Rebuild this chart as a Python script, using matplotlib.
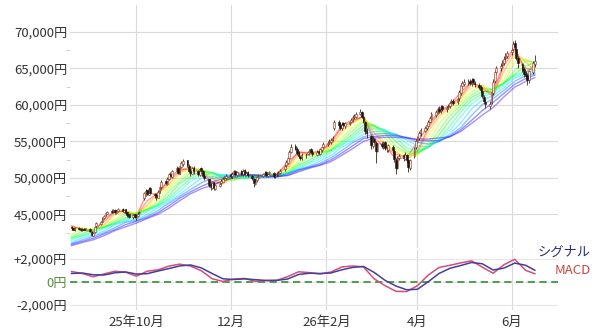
import numpy as np
import pandas as pd
import matplotlib
matplotlib.use("Agg")
import matplotlib.pyplot as plt
import matplotlib.dates as mdates

plt.rcParams['font.family'] = ['Noto Sans CJK JP', 'DejaVu Sans']

# daily candles, prices in units of 100 yen (one row per week, from 2025-08-20)
opens = [
    433, 431, 428,
    432, 430, 428, 430, 429,
    430, 426, 421, 426, 434,
    437, 440, 445, 449, 451,
    455, 453, 456, 452, 455,
    458, 454, 457, 453, 450,
    446, 450, 445, 448, 452,
    472, 477, 483, 477, 486,
    478, 477, 473, 480, 487,
    496, 492, 498, 506, 501,
    510, 514, 506, 515, 519,
    524, 517, 510, 506, 514,
    510, 504, 513, 510, 503,
    498, 492, 486, 494, 485,
    489, 493, 495, 500, 500,
    505, 502, 507, 510, 504,
    509, 505, 511, 504, 508,
    503, 499, 492, 497, 500,
    503, 506, 508, 503, 507,
    507, 502, 505, 505, 507,
    512, 518, 521, 528, 536,
    544, 539, 535, 529, 527,
    531, 533, 534, 539, 536,
    532, 537, 533, 538, 542,
    546, 549, 549, 553, 568,
    577, 572, 568, 575, 571,
    574, 577, 578, 584, 584,
    588, 591, 583, 577, 565,
    557, 544, 553, 548, 537,
    547, 543, 549, 540, 538,
    543, 537, 524, 514, 528,
    531, 526, 531, 524, 514,
    530, 542, 549, 555, 561,
    565, 569, 571, 577, 581,
    586, 589, 595, 591, 598,
    594, 597, 598, 604, 606,
    604, 609, 617, 626, 629,
    630, 633, 629, 635, 630,
    628, 624, 619, 611, 604,
    598, 604, 617, 633, 645,
    650, 655, 658, 664, 667,
    672, 677, 685, 677, 664,
    656, 649, 644, 641, 634,
    645, 656,
]
highs = [
    434, 432, 433,
    433, 431, 431, 431, 432,
    431, 427, 426, 434, 439,
    441, 446, 449, 454, 455,
    457, 458, 457, 456, 459,
    459, 458, 458, 454, 451,
    451, 451, 449, 453, 455,
    481, 485, 484, 487, 488,
    480, 479, 483, 490, 497,
    497, 501, 507, 508, 511,
    516, 515, 518, 523, 526,
    525, 519, 512, 515, 516,
    511, 514, 515, 511, 505,
    499, 494, 495, 495, 492,
    494, 498, 501, 503, 505,
    507, 508, 511, 511, 510,
    511, 512, 512, 509, 509,
    504, 500, 498, 503, 506,
    507, 509, 509, 507, 510,
    508, 506, 508, 509, 512,
    519, 524, 529, 538, 546,
    546, 542, 537, 532, 534,
    534, 537, 540, 541, 538,
    538, 539, 541, 544, 549,
    551, 553, 555, 558, 579,
    579, 575, 576, 577, 577,
    578, 582, 586, 588, 591,
    594, 592, 585, 578, 568,
    559, 557, 555, 550, 548,
    549, 550, 551, 543, 547,
    545, 539, 527, 530, 533,
    533, 535, 533, 526, 526,
    543, 553, 558, 565, 569,
    571, 575, 580, 585, 590,
    593, 597, 598, 600, 600,
    599, 602, 605, 608, 608,
    611, 621, 630, 633, 635,
    636, 636, 637, 637, 633,
    630, 627, 621, 614, 607,
    605, 621, 636, 648, 654,
    657, 662, 667, 671, 674,
    679, 688, 689, 679, 667,
    658, 652, 647, 644, 648,
    660, 668,
]
lows = [
    429, 428, 427,
    429, 427, 427, 428, 428,
    426, 420, 420, 425, 432,
    436, 439, 444, 448, 450,
    452, 452, 451, 451, 454,
    454, 452, 451, 447, 445,
    444, 445, 443, 447, 450,
    470, 475, 476, 476, 478,
    473, 470, 472, 479, 485,
    490, 491, 497, 500, 500,
    508, 505, 505, 513, 517,
    515, 507, 503, 505, 506,
    502, 502, 506, 500, 497,
    488, 484, 485, 483, 483,
    487, 491, 494, 498, 498,
    500, 500, 505, 503, 502,
    504, 503, 503, 502, 501,
    497, 488, 490, 495, 499,
    501, 504, 502, 501, 505,
    500, 500, 503, 503, 505,
    510, 515, 519, 526, 534,
    538, 532, 528, 524, 525,
    528, 531, 532, 533, 530,
    530, 532, 531, 536, 540,
    544, 546, 547, 550, 566,
    571, 566, 566, 569, 569,
    572, 575, 576, 581, 582,
    586, 582, 575, 560, 555,
    540, 541, 546, 521, 535,
    541, 540, 538, 535, 536,
    534, 522, 505, 512, 525,
    523, 524, 521, 508, 511,
    528, 540, 546, 552, 558,
    563, 566, 569, 575, 579,
    584, 587, 589, 589, 592,
    591, 594, 596, 601, 600,
    602, 606, 614, 623, 626,
    627, 627, 626, 629, 625,
    622, 617, 609, 601, 596,
    594, 601, 614, 630, 642,
    647, 651, 655, 660, 664,
    669, 674, 676, 662, 651,
    645, 639, 635, 628, 630,
    642, 652,
]
closes = [
    431, 429, 432,
    430, 428, 430, 429, 431,
    427, 422, 425, 433, 438,
    439, 444, 448, 452, 453,
    454, 456, 453, 455, 457,
    455, 456, 452, 449, 447,
    449, 446, 448, 451, 453,
    479, 482, 478, 485, 480,
    476, 474, 481, 488, 495,
    493, 499, 505, 502, 509,
    513, 507, 516, 520, 523,
    518, 509, 507, 513, 509,
    505, 512, 509, 503, 500,
    491, 487, 493, 486, 490,
    492, 496, 499, 501, 503,
    503, 506, 509, 505, 508,
    506, 510, 505, 507, 504,
    500, 493, 496, 501, 504,
    505, 507, 504, 506, 508,
    503, 505, 506, 507, 510,
    517, 522, 527, 535, 543,
    540, 534, 530, 527, 532,
    532, 535, 538, 535, 533,
    536, 534, 539, 542, 547,
    548, 550, 552, 555, 576,
    573, 569, 574, 572, 575,
    576, 579, 583, 585, 588,
    590, 584, 578, 564, 561,
    545, 554, 549, 537, 546,
    544, 548, 541, 539, 545,
    538, 526, 514, 528, 530,
    527, 532, 525, 515, 524,
    541, 550, 556, 562, 566,
    568, 572, 576, 582, 587,
    590, 594, 592, 597, 595,
    596, 599, 603, 605, 603,
    608, 618, 627, 630, 631,
    632, 630, 634, 631, 629,
    625, 620, 612, 605, 601,
    602, 618, 632, 645, 651,
    654, 659, 663, 668, 671,
    676, 684, 679, 665, 657,
    648, 643, 640, 634, 646,
    657, 660,
]
# closes before the visible range, only used to warm up the averages
closes_before = [
    386, 388, 383, 388, 395, 402,
    405, 399, 398, 398, 398,
    396, 397, 398, 396, 396,
    394, 397, 398, 399, 399,
    398, 412, 418, 415,
    410, 406, 406, 411, 408,
    403, 405, 408, 411, 418,
    427, 433, 427, 434,
    437, 435,
]
ma_periods = [3, 5, 7, 9, 12, 15, 18, 21, 24, 28, 32, 36, 40]
month_ticks = ['2025-10-01', '2025-12-01', '2026-02-01', '2026-04-01', '2026-06-01']
month_labels = ['25年10月', '12月', '26年2月', '4月', '6月']
macd_ticks = [2000, 0, -2000]
macd_labels = ['+2,000円', '0円', '-2,000円']

o = np.array(opens) * 100
h = np.array(highs) * 100
l = np.array(lows) * 100
c = np.array(closes) * 100
dates = pd.bdate_range('2025-08-20', periods=len(c))
x = mdates.date2num(dates)

full = pd.Series(np.array(closes_before + closes, dtype=float) * 100)
nb = len(closes_before)

# weekly points for the indicator lines
idx = np.arange(0, len(c), 5)
if idx[-1] != len(c) - 1:
    idx = np.append(idx, len(c) - 1)

fig = plt.figure(figsize=(6, 3.33), dpi=100)
ax = fig.add_axes([70 / 600, 85 / 333, 488 / 600, 243 / 333])
ax2 = fig.add_axes([70 / 600, 23 / 333, 488 / 600, 60 / 333], sharex=ax)

grid_c = '#dadada'
for a in (ax, ax2):
    for s in a.spines.values():
        s.set_visible(False)
    a.grid(True, color=grid_c, lw=0.8)
    a.set_axisbelow(True)

# rainbow moving averages
cols = plt.cm.gist_rainbow(np.linspace(0, 0.82, len(ma_periods)))
for p, col in zip(ma_periods, cols):
    sma = full.rolling(p, min_periods=1).mean().values[nb:]
    ax.plot(x[idx], sma[idx], color=col, lw=1.0, alpha=0.45, zorder=2)

# candles
up = c >= o
ax.vlines(x, l, h, color='#3a2418', lw=0.6, zorder=3)
ax.bar(x[up], (c - o)[up], bottom=o[up], width=1.1, color='#f3e6dc',
       edgecolor='#8a3a24', lw=0.4, zorder=4)
ax.bar(x[~up], (o - c)[~up], bottom=c[~up], width=1.1, color='#1c1410',
       edgecolor='#1c1410', lw=0.4, zorder=4)

ax.set_ylim(40400, 73700)
ax.set_yticks([45000, 50000, 55000, 60000, 65000, 70000])
ax.set_yticklabels([f'{v:,}円' for v in ax.get_yticks()])
ax.set_yticks([42500, 47500, 52500, 57500, 62500, 67500], minor=True)
ax.tick_params(axis='y', which='major', length=0, labelsize=9.5, labelcolor='#333333', pad=2)
ax.tick_params(axis='y', which='minor', length=3, color='#cccccc')
ax.tick_params(axis='x', length=0, labelbottom=False)

# MACD panel
ema12 = full.ewm(span=12, adjust=False).mean()
ema26 = full.ewm(span=26, adjust=False).mean()
macd = (ema12 - ema26)
signal = macd.ewm(span=9, adjust=False).mean()
macd = macd.values[nb:]
signal = signal.values[nb:]

ax2.axhline(0, color='#3f9a3f', lw=1.3, ls=(0, (4, 2.5)), zorder=2)
ax2.plot(x[idx], macd[idx], color='#d0507a', lw=1.1, zorder=3)
ax2.plot(x[idx], signal[idx], color='#4a3c9a', lw=1.1, zorder=4)
ax2.set_ylim(-2440, 2780)
ax2.set_yticks(macd_ticks)
ax2.set_yticklabels(macd_labels)
ax2.yaxis.grid(True, color='#e6e6e6', lw=0.8)
ax2.tick_params(axis='y', length=0, labelsize=9.5, labelcolor='#333333', pad=2)
ax2.get_yticklabels()[1].set_color('#5a8f3c')

ax2.set_xticks(mdates.date2num(pd.to_datetime(month_ticks)))
ax2.set_xticklabels(month_labels)
ax2.tick_params(axis='x', length=0, labelsize=9.5, labelcolor='#333333', pad=4)
ax2.set_xlim(mdates.date2num(pd.Timestamp('2025-08-19')),
             mdates.date2num(pd.Timestamp('2026-07-01')))

fig.text(591 / 600, 1 - 252 / 333, 'シグナル', ha='right', va='center',
         fontsize=9.5, color='#2b2d7c')
fig.text(591 / 600, 1 - 270 / 333, 'MACD', ha='right', va='center',
         fontsize=9.5, color='#c8463c')

fig.savefig('out.png', dpi=100)
